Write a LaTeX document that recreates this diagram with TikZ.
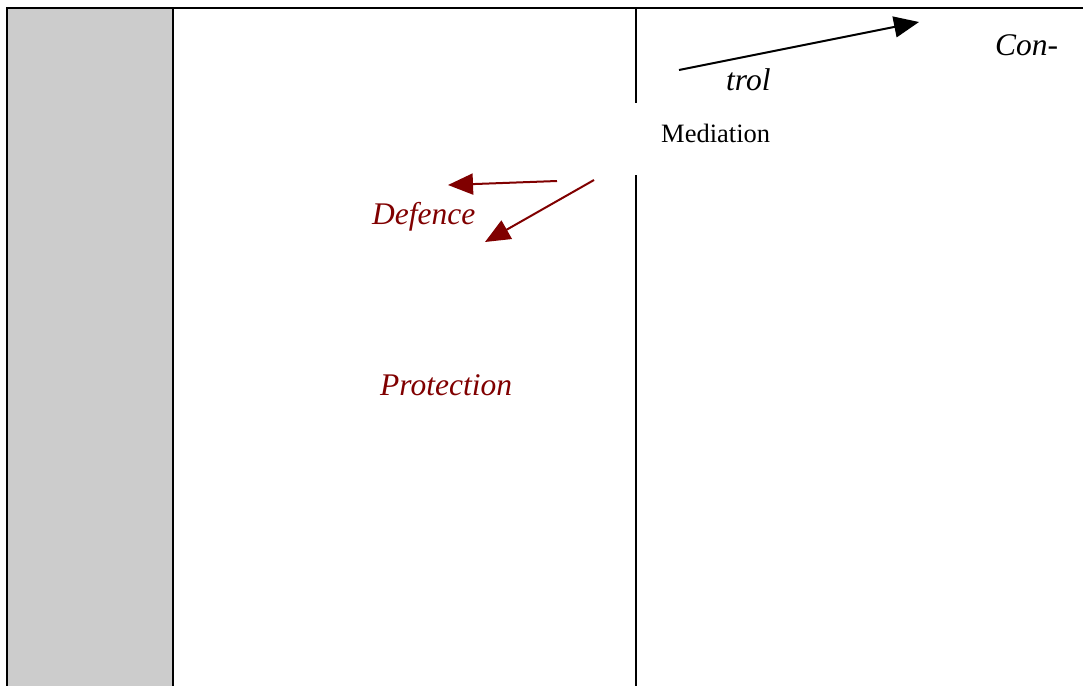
\documentclass[tikz,border=0pt]{standalone}
\usepackage{fontspec}
\setmainfont{Liberation Serif}
\usetikzlibrary{arrows.meta}
\definecolor{maroon}{RGB}{128,0,0}
\begin{document}
\begin{tikzpicture}[
  x=1pt, y=-1pt,
  rule/.style={line width=2.2pt},
  term/.style={font=\fontsize{31.5}{36}\selectfont\itshape, inner sep=0pt, anchor=base west},
  redterm/.style={term, text=maroon},
  plain/.style={font=\fontsize{26.5}{30}\selectfont, inner sep=0pt, anchor=base west},
  link/.style={line width=2pt, -{Triangle[length=25pt,width=21pt]}},
  redlink/.style={link, draw=maroon, fill=maroon}
]
\useasboundingbox (0,0) rectangle (1083,686);
\fill[gray!40] (8,8) rectangle (173,686);
% frame and columns
\draw[rule] (1083,8) -- (7,8) -- (7,686);
\draw[rule] (173,8) -- (173,686);
\draw[rule] (636,8) -- (636,103);
\draw[rule] (636,175) -- (636,686);
% labels
\node[term] (con) at (995,55) {Con-};
\node[term] (trol) at (726,90) {trol};
\node[plain] (mediation) at (661,142) {Mediation};
\node[redterm] (defence) at (372,224) {Defence};
\node[redterm] (protection) at (380,395) {Protection};
% arrows
\coordinate (ctrl-from) at (679,70);
\coordinate (ctrl-to) at (919,22);
\coordinate (def-from) at (557,181);
\coordinate (def-to) at (448,185);
\coordinate (prot-from) at (594,180);
\coordinate (prot-to) at (485,242);
\draw[link] (ctrl-from) -- (ctrl-to);
\draw[redlink] (def-from) -- (def-to);
\draw[redlink] (prot-from) -- (prot-to);
\end{tikzpicture}
\end{document}
